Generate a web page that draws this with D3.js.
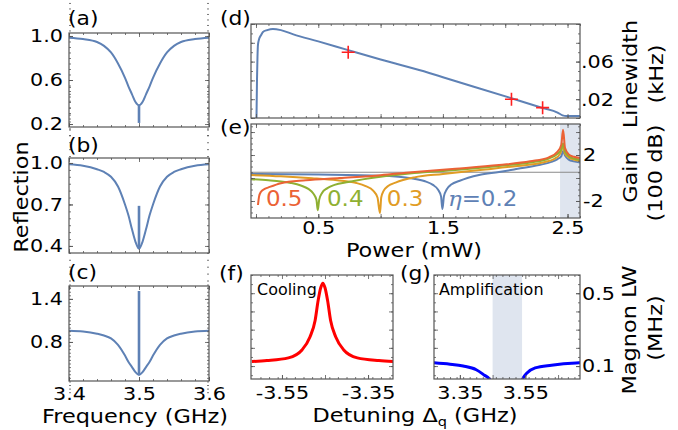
<!DOCTYPE html>
<html><head><meta charset="utf-8">
<script src="https://cdn.jsdelivr.net/npm/d3@7"></script>
<style>body{margin:0;background:#fff}svg{display:block}</style>
</head><body><script>
// ---------- data ----------
// (a)-(c) reflection spectra vs frequency (GHz)
const freq  = [3.40,3.42,3.44,3.45,3.46,3.47,3.48,3.485,3.49,3.495,3.50,3.505,3.51,3.515,3.52,3.53,3.54,3.55,3.56,3.58,3.60];
const reflA = [0.985,0.972,0.945,0.91,0.85,0.75,0.62,0.54,0.47,0.40,0.37,0.40,0.47,0.54,0.62,0.75,0.85,0.91,0.945,0.972,0.985];
const reflB = [0.99,0.98,0.955,0.935,0.90,0.83,0.70,0.62,0.52,0.43,0.38,0.43,0.52,0.62,0.70,0.83,0.90,0.935,0.955,0.98,0.99];
const reflC = [0.955,0.945,0.915,0.89,0.85,0.76,0.61,0.52,0.45,0.38,0.34,0.38,0.45,0.52,0.61,0.76,0.85,0.89,0.915,0.945,0.955];
const spikeFreq = 3.5;
const spikeA = [0.37, 0.21];
const spikeB = [0.38, 0.69];
const spikeC = [0.34, 1.51];
const reflTicksA = [0.2, 0.6, 1.0];
const reflTicksB = [0.4, 0.7, 1.0];
const reflTicksC = [0.8, 1.4];
const freqTicks = [3.4, 3.5, 3.6];

// (d) linewidth (kHz) vs power (mW)
const powerD    = [0.004,0.008,0.012,0.016,0.025,0.04,0.056,0.09,0.136,0.2,0.3,0.5,0.74,1.0,1.39,1.5,2.05,2.3,2.42,2.46,2.49,2.6];
const linewidth = [0,0.04,0.065,0.078,0.084,0.088,0.0915,0.0935,0.0947,0.0935,0.089,0.0815,0.0722,0.0622,0.0479,0.0434,0.021,0.0107,0.0058,0.0028,0.002,0.002];
const markPower = [0.74, 2.05, 2.3];
const markLW    = [0.070, 0.020, 0.011];
const lwTicks   = [0.02, 0.06];
const powerTicks = [0.5, 1.5, 2.5];

// (e) gain (100 dB) vs power for several eta
const etaLabels = ["0.2", "0.3", "0.4", "0.5"];
const pBlue   = [-0.04,0.5,1.0,1.2,1.35,1.42,1.46,1.485,1.496,1.508,1.53,1.57,1.63,1.79,1.95,2.1,2.27,2.37,2.42,2.45,2.464,2.48,2.51,2.55,2.6];
const gBlue   = [0.35,0.3,0.2,0.05,-0.26,-0.6,-1.0,-1.6,-2.7,-1.6,-1.0,-0.55,-0.26,0.26,0.52,0.8,1.13,1.4,1.65,1.9,2.35,1.95,1.6,1.45,1.35];
const pOrange = [-0.04,0.2,0.45,0.65,0.8,0.88,0.94,0.975,0.995,1.005,1.025,1.06,1.12,1.27,1.5,1.8,2.1,2.3,2.4,2.44,2.464,2.48,2.51,2.55,2.6];
const gOrange = [0.26,0.15,-0.02,-0.2,-0.42,-0.7,-1.1,-1.7,-3.05,-1.7,-1.1,-0.7,-0.4,0.05,0.35,0.7,1.05,1.35,1.7,2.1,2.7,2.1,1.8,1.6,1.5];
const pGreen  = [-0.04,0.1,0.2,0.28,0.36,0.42,0.46,0.485,0.496,0.507,0.53,0.57,0.63,0.74,1.0,1.27,1.6,1.95,2.2,2.35,2.42,2.45,2.464,2.48,2.51,2.55,2.6];
const gGreen  = [-0.1,-0.2,-0.3,-0.43,-0.65,-0.95,-1.35,-1.9,-2.8,-1.9,-1.3,-0.9,-0.6,-0.35,0.1,0.43,0.7,1.05,1.35,1.7,2.1,2.5,3.0,2.3,1.9,1.7,1.6];
const pRed    = [0.016,0.025,0.04,0.07,0.1,0.2,0.4,0.67,1.0,1.25,1.6,1.95,2.2,2.35,2.42,2.45,2.464,2.48,2.51,2.55,2.6];
const gRed    = [-2.35,-1.6,-1.2,-0.95,-0.82,-0.45,-0.2,0.0,0.25,0.5,0.8,1.13,1.45,1.8,2.3,2.9,4.2,2.6,2.05,1.85,1.75];
const gainRef = 0.5;
const gainShade = [2.44, 2.6];
const gainTicks = [-2, 2];

// (f) cooling, (g) amplification: magnon linewidth (MHz) vs detuning (GHz)
const fDet = [-3.62,-3.585,-3.535,-3.503,-3.485,-3.473,-3.466,-3.46,-3.455,-3.45,-3.444,-3.437,-3.425,-3.407,-3.375,-3.325,-3.29];
const fLW  = [0.125,0.13,0.145,0.19,0.26,0.35,0.46,0.53,0.555,0.53,0.46,0.35,0.26,0.19,0.145,0.13,0.125];
const gDetLow  = [3.27,3.32,3.36,3.40,3.425,3.44,3.45];
const gLWLow   = [0.118,0.11,0.1,0.08,0.05,0.03,0.0];
const gDetHigh = [3.535,3.545,3.555,3.58,3.63,3.705,3.72];
const gLWHigh  = [0.0,0.04,0.062,0.09,0.105,0.117,0.118];
const ampShade = [3.45, 3.54];
const fTicks = [-3.55, -3.35];
const gTicks = [3.35, 3.55];
const magTicks = [0.1, 0.5];

// ---------- drawing ----------
const FONT = "DejaVu Sans";
const FRAME = "#555";
const SX = 1.12; // horizontal stretch of lettering
const C = {blue:"#5e81b5", orange:"#e19c24", green:"#8fb032", red:"#eb6235"};
const svg = d3.select("body").append("svg").attr("width",678).attr("height",430)
  .attr("font-family",FONT);
let clipN = 0;

function panel(xr, yr, xd, yd){
  const x = d3.scaleLinear().domain(xd).range(xr);
  const y = d3.scaleLinear().domain(yd).range(yr);
  const g = svg.append("g");
  const id = "clip" + (clipN++);
  svg.append("clipPath").attr("id",id).append("rect")
    .attr("x",xr[0]).attr("y",yr[1]).attr("width",xr[1]-xr[0]).attr("height",yr[0]-yr[1]);
  const plot = g.append("g").attr("clip-path",`url(#${id})`);
  return {x,y,g,plot,xr,yr};
}
function ax(p, side, vals, size, fmt, pad, fs){
  const {x,y,xr,yr} = p;
  let a, tx=0, ty=0;
  if(side==="bottom"){a=d3.axisBottom(x); ty=yr[0];}
  if(side==="top"){a=d3.axisTop(x); ty=yr[1];}
  if(side==="left"){a=d3.axisLeft(y); tx=xr[0];}
  if(side==="right"){a=d3.axisRight(y); tx=xr[1];}
  a.tickValues(vals).tickSize(-size).tickPadding(pad||0).tickFormat(fmt||(()=>""));
  const g = p.g.append("g").attr("transform",`translate(${tx},${ty})`).call(a);
  g.select(".domain").remove();
  g.attr("font-family",FONT).attr("font-size",fs||18.5);
  g.selectAll("line").attr("stroke",FRAME).attr("stroke-width",0.8);
  g.selectAll("text").attr("fill","#000").attr("transform",`scale(${SX},1)`)
    .attr("x",function(){const v=+d3.select(this).attr("x")||0;return v/SX;});
  return g;
}
function rng(a,b,s){const out=[];for(let v=a;v<=b+1e-9;v+=s)out.push(+v.toFixed(4));return out;}
function frame(p){
  p.g.append("rect").attr("x",p.xr[0]).attr("y",p.yr[1])
    .attr("width",p.xr[1]-p.xr[0]).attr("height",p.yr[0]-p.yr[1])
    .attr("fill","none").attr("stroke",FRAME).attr("stroke-width",1.2);
}
function allMinor(p, xv, yv){
  ["bottom","top"].forEach(s=>ax(p,s,xv,2));
  ["left","right"].forEach(s=>ax(p,s,yv,2));
}
function allMajor(p, xv, yv){
  ["bottom","top"].forEach(s=>ax(p,s,xv,4));
  ["left","right"].forEach(s=>ax(p,s,yv,4));
}
function line(p, xs, ys, color, w, curve){
  const pts = xs.map((v,i)=>[v,ys[i]]);
  p.plot.append("path").datum(pts)
    .attr("d", d3.line().x(d=>p.x(d[0])).y(d=>p.y(d[1])).curve(curve||d3.curveMonotoneX))
    .attr("fill","none").attr("stroke",color).attr("stroke-width",w)
    .attr("stroke-linejoin","round");
}
function txt(x,y,s,fs,opts,sx){
  const t = svg.append("text").attr("transform",`translate(${x},${y}) scale(${sx||SX},1)`)
    .attr("font-size",fs).text(s);
  if(opts){Object.entries(opts).forEach(([k,v])=>t.attr(k,v));}
  return t;
}
const fmt1 = d=>d.toFixed(1);

// ---- (a),(b),(c) ----
const reflPanels = [
  {yr:[127,33], yd:[0.173,1.027], data:reflA, spike:spikeA, ticks:reflTicksA},
  {yr:[253,158], yd:[0.349,1.036], data:reflB, spike:spikeB, ticks:reflTicksB},
  {yr:[381,286], yd:[0.256,1.58], data:reflC, spike:spikeC, ticks:reflTicksC}
];
reflPanels.forEach((r,i)=>{
  const p = panel([69,209], r.yr, [3.4,3.6], r.yd);
  line(p, freq, r.data, C.blue, 2);
  line(p, [spikeFreq,spikeFreq], r.spike, C.blue, 2.6, d3.curveLinear);
  allMinor(p, rng(3.4,3.6,0.02), rng(0.1,1.6,0.05));
  allMajor(p, freqTicks, r.ticks);
  ax(p,"left",r.ticks,4,fmt1,6);
  if(i===2) ax(p,"bottom",freqTicks,4,fmt1,5.5);
  frame(p);
});

// ---- (d) ----
const pd = panel([251,580],[118,24],[-0.04,2.6],[0,0.1]);
line(pd, powerD, linewidth, C.blue, 2);
markPower.forEach((v,i)=>{
  const cx = pd.x(v), cy = pd.y(markLW[i]);
  pd.plot.append("path").attr("d",`M${cx-6.5},${cy}H${cx+6.5}M${cx},${cy-6.5}V${cy+6.5}`)
    .attr("stroke","#ff2020").attr("stroke-width",1.6).attr("fill","none");
});
allMinor(pd, rng(0,2.6,0.1), rng(0,0.1,0.01));
allMajor(pd, rng(0,2.5,0.5), rng(0,0.1,0.02));
ax(pd,"right",lwTicks,4,d=>d.toFixed(2).replace(/^0/,""),1);
frame(pd);

// ---- (e) ----
const pe = panel([251,580],[218,124],[-0.04,2.6],[-3.48,4.7]);
pe.plot.append("rect").attr("x",pe.x(gainShade[0])).attr("y",124)
  .attr("width",pe.x(gainShade[1])-pe.x(gainShade[0])).attr("height",94)
  .attr("fill","#dfe5ef");
pe.plot.append("line").attr("x1",pe.x(-0.04)).attr("x2",pe.x(2.6))
  .attr("y1",pe.y(gainRef)).attr("y2",pe.y(gainRef)).attr("stroke","#8a8a8a").attr("stroke-width",1);
line(pe, pBlue, gBlue, C.blue, 2);
line(pe, pOrange, gOrange, C.orange, 2);
line(pe, pGreen, gGreen, C.green, 2);
line(pe, pRed, gRed, C.red, 2);
allMinor(pe, rng(0,2.6,0.1), rng(-3,4.5,0.5));
allMajor(pe, rng(0,2.5,0.5), rng(-2,4,2));
ax(pe,"right",gainTicks,4,d=>d<0?"-"+Math.abs(d):String(d),3);
ax(pe,"bottom",powerTicks,4,fmt1,2.5);
frame(pe);
// eta labels
const lblY = pe.y(-2.43);
txt(pe.x(0.08), lblY, "0.5", 20.5, {fill:C.red});
txt(pe.x(0.57), lblY, "0.4", 20.5, {fill:C.green});
txt(pe.x(1.05), lblY, "0.3", 20.5, {fill:C.orange});
const eta = txt(pe.x(1.54), lblY, "", 20.5, {fill:C.blue});
eta.append("tspan").attr("font-family","DejaVu Serif").attr("font-style","italic").text("η");
eta.append("tspan").text("=" + etaLabels[0]);

// ---- (f) ----
const pf = panel([251,393],[379,275],[-3.622,-3.292],[0.029,0.6]);
line(pf, fDet, fLW, "#ff0000", 3);
allMinor(pf, rng(-3.6,-3.3,0.02), rng(0.05,0.6,0.05));
allMajor(pf, rng(-3.55,-3.3,0.1), rng(0.1,0.5,0.1));
ax(pf,"bottom",fTicks,4,d=>d.toFixed(2),7);
frame(pf);
txt(pf.x(-3.608), pf.y(0.489), "Cooling", 15.5, null, 1.03);

// ---- (g) ----
const pg = panel([434,580],[379,275],[3.271,3.717],[0.029,0.6]);
pg.plot.append("rect").attr("x",pg.x(ampShade[0])).attr("y",275)
  .attr("width",pg.x(ampShade[1])-pg.x(ampShade[0])).attr("height",104).attr("fill","#dfe5ef");
line(pg, gDetLow, gLWLow, "#0000ff", 3);
line(pg, gDetHigh, gLWHigh, "#0000ff", 3);
allMinor(pg, rng(3.28,3.7,0.02), rng(0.05,0.6,0.05));
allMajor(pg, rng(3.35,3.7,0.1), rng(0.1,0.5,0.1));
ax(pg,"bottom",gTicks,4,d=>d.toFixed(2),7);
ax(pg,"right",magTicks,4,fmt1,2);
frame(pg);
txt(pg.x(3.286), pg.y(0.489), "Amplification", 15.5, null, 1.03);

// ---- panel labels ----
txt(68,25,"(a)",19.5); txt(68,152,"(b)",19.5); txt(68,279,"(c)",19.5);
txt(220,25,"(d)",19.5); txt(220,134,"(e)",19.5); txt(219,280,"(f)",19.5); txt(400,280,"(g)",19.5);

// ---- axis titles ----
txt(135,423,"Frequency (GHz)",20,{"text-anchor":"middle"});
txt(414,256.5,"Power (mW)",20,{"text-anchor":"middle"});
const det = txt(415,422,"Detuning Δ",20,{"text-anchor":"middle"});
det.append("tspan").attr("font-size",13).attr("dy",4).text("q");
det.append("tspan").attr("dy",-4).text(" (GHz)");
function vtxt(x,y,s,fs){
  return svg.append("text").attr("transform",`translate(${x},${y}) rotate(-90) scale(${SX},1)`)
    .attr("text-anchor","middle").attr("font-size",fs).text(s);
}
vtxt(28,197,"Reflection",20);
vtxt(637,74,"Linewidth",20);
vtxt(663,74,"(kHz)",20);
vtxt(637,177,"Gain",20);
vtxt(662,173,"(100 dB)",20);
vtxt(636,330,"Magnon LW",20);
vtxt(662,328,"(MHz)",20);
</script></body></html>
